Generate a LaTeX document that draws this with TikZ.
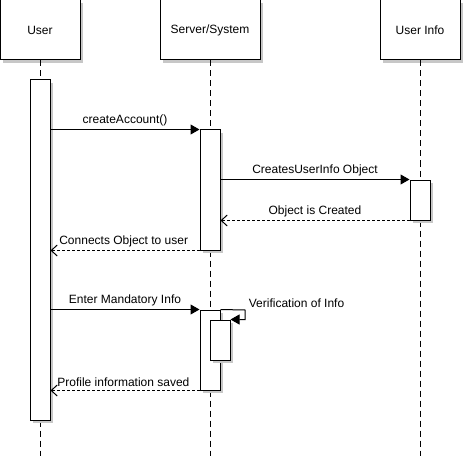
\documentclass[tikz,border=0pt]{standalone}
\usepackage{fontspec}
\setmainfont{Liberation Sans}
\usetikzlibrary{arrows.meta,shadows}

\begin{document}
\begin{tikzpicture}[x=1pt,y=-1pt,line width=1pt,
                    font=\fontsize{12}{14}\selectfont]
  \tikzstyle{shade}=[drop shadow={shadow xshift=3pt,shadow yshift=-3pt,
                     fill=black!22,opacity=1}]
  \tikzstyle{head}=[draw,fill=white,shade,minimum height=60pt,inner sep=0pt]
  \tikzstyle{act}=[draw,fill=white,shade,minimum width=20pt,inner sep=0pt]
  \tikzstyle{life}=[dash pattern=on 6pt off 4pt]
  \tikzstyle{call}=[-{Triangle[length=9pt,width=10pt]}]
  \tikzstyle{reply}=[-{Straight Barb[length=6pt,width=11pt,line width=1pt]},
                     dash pattern=on 3pt off 2pt]

  \useasboundingbox (0,0) rectangle (465,465);

  % lifeline heads
  \node[head,minimum width=80pt]  (user)   at (40,30)  {User};
  \node[head,minimum width=100pt] (server) at (210,30) {Server/System};
  \node[head,minimum width=80pt]  (info)   at (420,30) {User Info};

  \coordinate (userend)   at (40,456);
  \coordinate (serverend) at (210,456);
  \coordinate (infoend)   at (420,456);
  \draw[life] (user)   -- (userend);
  \draw[life] (server) -- (serverend);
  \draw[life] (info)   -- (infoend);

  % activations
  \node[act,minimum height=340pt] (ua)  at (40,250)  {};
  \node[act,minimum height=120pt] (sa1) at (210,190) {};
  \node[act,minimum height=40pt]  (ia)  at (420,200) {};
  \node[act,minimum height=80pt]  (sa2) at (210,350) {};
  \node[act,minimum height=40pt]  (va)  at (220,340) {};

  % messages
  \draw[call] (ua.east |- sa1.north) -- node[above] {createAccount()} (sa1.north west);
  \draw[call] (sa1.east |- ia.north) -- node[above] {CreatesUserInfo Object} (ia.north west);
  \draw[reply] (ia.south west) -- node[above] {Object is Created} (sa1.east |- ia.south);
  \draw[reply] (sa1.south west) -- node[pos=1,anchor=south west,xshift=5pt] {Connects Object to user} (ua.east |- sa1.south);
  \draw[call] (ua.east |- sa2.north) -- node[above] {Enter Mandatory Info} (sa2.north west);
  \coordinate (loop) at (245,310);
  \draw[call] (sa2.north east) -- (loop) |- node[pos=0,anchor=south west,yshift=-1pt] {Verification of Info} (va.north east);
  \draw[reply] (sa2.south west) -- node[pos=1,anchor=south west,xshift=3pt] {Profile information saved} (ua.east |- sa2.south);
\end{tikzpicture}
\end{document}
